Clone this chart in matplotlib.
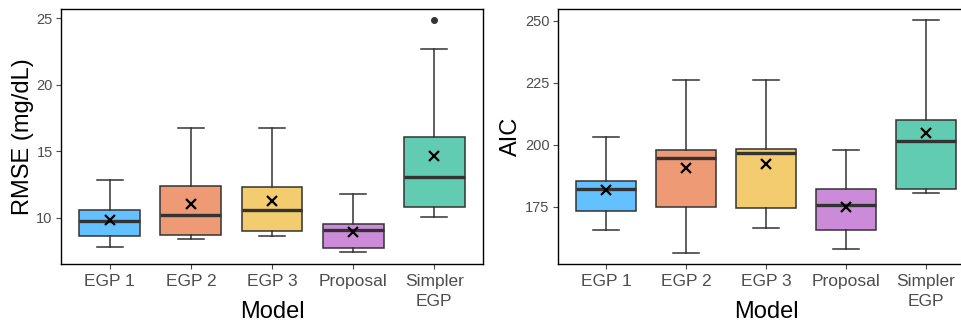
import matplotlib.pyplot as plt

plt.rcParams['font.family'] = ['Liberation Sans', 'DejaVu Sans']

models = ['EGP 1', 'EGP 2', 'EGP 3', 'Proposal', 'Simpler\nEGP']
colors = ['#63C1FF', '#EE9A74', '#F2CC6E', '#CC8BD9', '#61CCB1']

# RMSE (mg/dL): whisker low, q1, median, q3, whisker high, mean
rmse_wlo = [7.82, 8.40, 8.60, 7.40, 10.05]
rmse_q1 = [8.65, 8.67, 9.02, 7.74, 10.78]
rmse_med = [9.75, 10.23, 10.55, 9.10, 13.08]
rmse_q3 = [10.60, 12.36, 12.33, 9.53, 16.05]
rmse_whi = [12.84, 16.77, 16.77, 11.80, 22.71]
rmse_mean = [9.85, 11.05, 11.23, 8.92, 14.67]
rmse_out = [[], [], [], [], [24.87]]

# AIC
aic_wlo = [165.9, 156.6, 166.7, 158.2, 180.5]
aic_q1 = [173.5, 175.0, 174.7, 165.7, 182.1]
aic_med = [182.4, 194.7, 196.7, 175.8, 201.7]
aic_q3 = [185.6, 198.1, 198.3, 182.2, 210.2]
aic_whi = [203.3, 226.1, 226.1, 197.8, 250.3]
aic_mean = [182.0, 190.6, 192.2, 175.1, 204.8]
aic_out = [[], [], [], [], []]


def make_stats(wlo, q1, med, q3, whi, mean, out):
    stats = []
    for i in range(len(models)):
        stats.append(dict(whislo=wlo[i], q1=q1[i], med=med[i], q3=q3[i],
                          whishi=whi[i], mean=mean[i], fliers=out[i]))
    return stats


def draw(ax, stats, ylabel, ylim, yticks, ylab_x):
    pos = list(range(1, len(models) + 1))
    bp = ax.bxp(stats, positions=pos, widths=0.75, patch_artist=True,
                showmeans=True, showfliers=True, capwidths=0.32,
                boxprops=dict(edgecolor='#333333', linewidth=1.1),
                medianprops=dict(color='#333333', linewidth=2.4),
                whiskerprops=dict(color='#333333', linewidth=1.1),
                capprops=dict(color='#333333', linewidth=1.1),
                meanprops=dict(marker='x', markeredgecolor='black', markersize=7,
                               markeredgewidth=1.6),
                flierprops=dict(marker='o', markerfacecolor='#333333',
                                markeredgecolor='#333333', markersize=4))
    for patch, c in zip(bp['boxes'], colors):
        patch.set_facecolor(c)
    ax.set_xlim(0.4, 5.6)
    ax.set_ylim(*ylim)
    ax.set_yticks(yticks)
    ax.set_xticks(pos)
    ax.set_xticklabels(models, fontsize=12.5, color='#4D4D4D', linespacing=1.45)
    ax.tick_params(axis='y', labelsize=10.5, labelcolor='#4D4D4D', pad=2.5)
    ax.tick_params(color='#4D4D4D', length=3.5, width=0.8)
    ax.set_xlabel('Model', fontsize=17, va='center')
    ax.xaxis.set_label_coords(0.5, -0.19)
    ax.set_ylabel(ylabel, fontsize=17, va='center')
    ax.yaxis.set_label_coords(ylab_x, 0.5)
    for s in ax.spines.values():
        s.set_linewidth(1.0)
        s.set_color('black')


fig = plt.figure(figsize=(9.61, 3.27), dpi=100)
ax1 = fig.add_axes([0.0635, 0.1927, 0.4391, 0.7803])
ax2 = fig.add_axes([0.5806, 0.1927, 0.4329, 0.7803])

draw(ax1, make_stats(rmse_wlo, rmse_q1, rmse_med, rmse_q3, rmse_whi, rmse_mean, rmse_out),
     'RMSE (mg/dL)', (6.52, 25.72), [10, 15, 20, 25], -0.09)
draw(ax2, make_stats(aic_wlo, aic_q1, aic_med, aic_q3, aic_whi, aic_mean, aic_out),
     'AIC', (152.05, 254.8), [175, 200, 225, 250], -0.112)

fig.savefig('out.png', dpi=100)
